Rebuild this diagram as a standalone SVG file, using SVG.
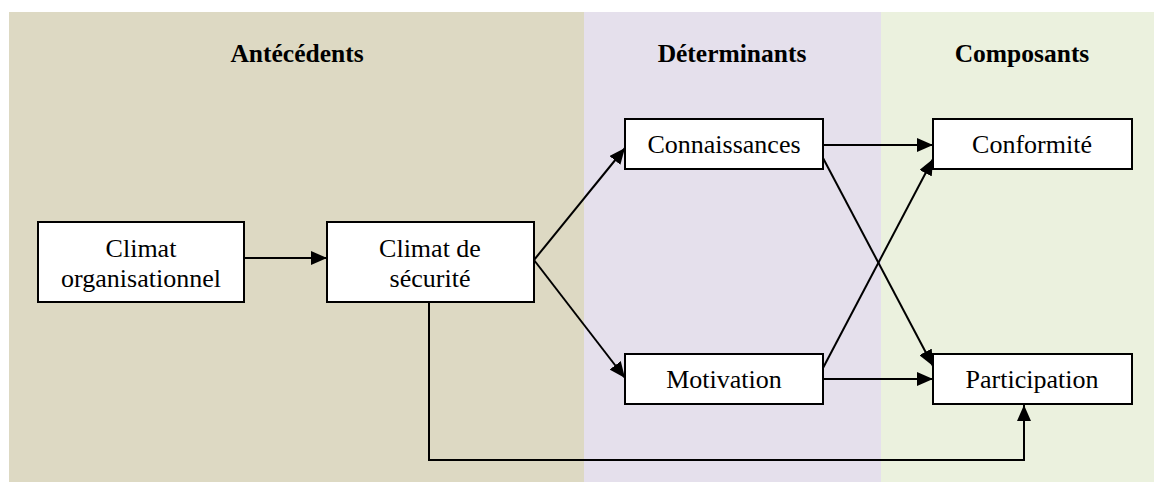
<svg xmlns="http://www.w3.org/2000/svg" width="1154" height="482" viewBox="0 0 1154 482">
<style>
.box{fill:#fff;stroke:#000;stroke-width:2}
.t{font-family:"Liberation Serif","Times New Roman","DejaVu Serif",serif;font-size:26px;text-anchor:middle;fill:#000}
.h{font-family:"Liberation Serif","Times New Roman","DejaVu Serif",serif;font-size:25.5px;font-weight:bold;text-anchor:middle;fill:#000}
.c{fill:none;stroke:#000;stroke-width:2}
</style>
<defs>
<marker id="arr" viewBox="0 0 16 14" refX="16" refY="7" markerWidth="16" markerHeight="14" markerUnits="userSpaceOnUse" orient="auto">
<path d="M0,0 L16,7 L0,14 Z" fill="#000"/>
</marker>
</defs>
<g id="panels">
<rect x="9" y="12" width="575" height="470" fill="#DDD9C3"/>
<rect x="584" y="12" width="297" height="470" fill="#E5E0EC"/>
<rect x="881" y="12" width="273" height="470" fill="#EBF1DE"/>
<text class="h" x="297" y="62">Antécédents</text>
<text class="h" x="732" y="62">Déterminants</text>
<text class="h" x="1022" y="62">Composants</text>
</g>
<g id="connectors">
<line class="c" x1="244" y1="258" x2="327" y2="258" marker-end="url(#arr)"/>
<line class="c" x1="534" y1="260" x2="625" y2="148" marker-end="url(#arr)"/>
<line class="c" x1="534" y1="260" x2="625" y2="378" marker-end="url(#arr)"/>
<line class="c" x1="823" y1="145" x2="933" y2="145" marker-end="url(#arr)"/>
<line class="c" x1="823" y1="379" x2="933" y2="379" marker-end="url(#arr)"/>
<line class="c" x1="823" y1="158" x2="933" y2="366" marker-end="url(#arr)"/>
<line class="c" x1="823" y1="368" x2="933" y2="159" marker-end="url(#arr)"/>
<polyline class="c" points="429,302 429,460 1024,460 1024,405" marker-end="url(#arr)"/>
</g>
<g id="climat-organisationnel">
<rect class="box" x="38" y="222" width="206" height="80"/>
<text class="t" x="141" y="257">Climat</text>
<text class="t" x="141" y="287">organisationnel</text>
</g>
<g id="climat-securite">
<rect class="box" x="327" y="222" width="207" height="80"/>
<text class="t" x="430" y="257">Climat de</text>
<text class="t" x="430" y="287">sécurité</text>
</g>
<g id="connaissances">
<rect class="box" x="625" y="119" width="198" height="50"/>
<text class="t" x="724" y="153">Connaissances</text>
</g>
<g id="motivation">
<rect class="box" x="625" y="354" width="198" height="50"/>
<text class="t" x="724" y="388">Motivation</text>
</g>
<g id="conformite">
<rect class="box" x="933" y="119" width="199" height="50"/>
<text class="t" x="1032" y="153">Conformité</text>
</g>
<g id="participation">
<rect class="box" x="933" y="354" width="199" height="50"/>
<text class="t" x="1032" y="388">Participation</text>
</g>
</svg>
